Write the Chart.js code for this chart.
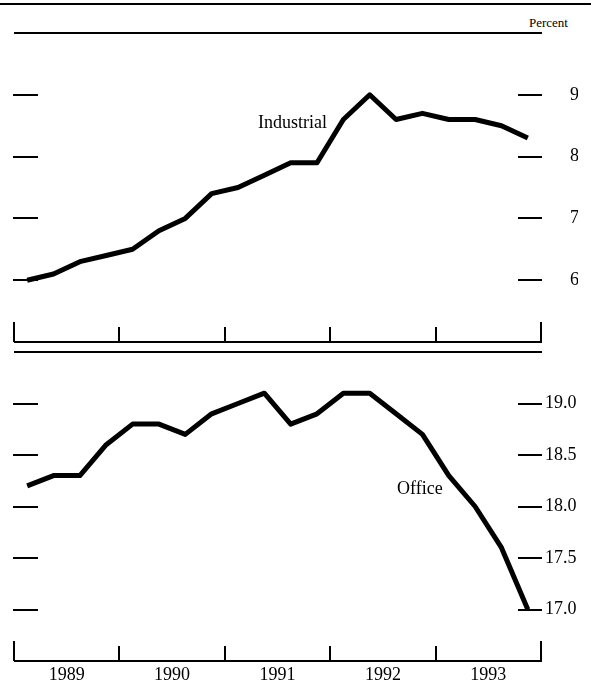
<!DOCTYPE html>
<html>
<head>
<meta charset="utf-8">
<script src="https://cdn.jsdelivr.net/npm/chart.js@4"></script>
<style>
  html, body { margin: 0; padding: 0; background: #fff; }
  body { width: 591px; height: 690px; position: relative; overflow: hidden; font-family: "Liberation Serif", "DejaVu Serif", serif; color: #000; }
  canvas { position: absolute; left: 0; top: 0; }
  .lbl { position: absolute; white-space: nowrap; font-size: 18px; line-height: 18px; }
  #topRule { position: absolute; left: 0; top: 3px; width: 591px; height: 2px; background: #000; }
  #pct { position: absolute; left: 529px; top: 16px; font-size: 13px; line-height: 13px; white-space: nowrap; }
</style>
</head>
<body>
<div id="topRule"></div>
<div id="pct">Percent</div>
<canvas id="c1" width="591" height="690"></canvas>
<canvas id="c2" width="591" height="690"></canvas>
<div class="lbl" style="left:258px; top:113px;">Industrial</div>
<div class="lbl" style="left:397px; top:479px;">Office</div>
<script>
// ---- data (quarterly, 1989Q1 .. 1993Q4) ----
const years = ['1989', '1990', '1991', '1992', '1993'];
const industrial = [6.0, 6.1, 6.3, 6.4, 6.5, 6.8, 7.0, 7.4, 7.5, 7.7,
                    7.9, 7.9, 8.6, 9.0, 8.6, 8.7, 8.6, 8.6, 8.5, 8.3];
const office = [18.2, 18.3, 18.3, 18.6, 18.8, 18.8, 18.7, 18.9, 19.0, 19.1,
                18.8, 18.9, 19.1, 19.1, 18.9, 18.7, 18.3, 18.0, 17.6, 17.0];
const industrialTicks = [6, 7, 8, 9];
const industrialTickLabels = ['6', '7', '8', '9'];
const officeTicks = [17.0, 17.5, 18.0, 18.5, 19.0];
const officeTickLabels = ['17.0', '17.5', '18.0', '18.5', '19.0'];

const toPoints = arr => arr.map((v, i) => ({ x: i + 0.5, y: v }));
const yearBounds = years.map((_, k) => 4 * k).concat([4 * years.length]);

const FONT = "'Liberation Serif', 'DejaVu Serif', serif";

const framePlugin = {
  id: 'frame',
  afterDraw(chart, args, opts) {
    const { ctx, chartArea: a, scales } = chart;
    const xs = scales.x, ys = scales.y;
    ctx.save();
    ctx.strokeStyle = '#000';
    ctx.lineWidth = 2;
    ctx.lineCap = 'butt';
    // top rule and bottom axis line
    ctx.beginPath();
    ctx.moveTo(a.left, a.top); ctx.lineTo(a.right + 1, a.top);
    ctx.moveTo(a.left, a.bottom); ctx.lineTo(a.right + 1, a.bottom);
    ctx.stroke();
    // year boundary ticks (pointing up)
    ctx.beginPath();
    yearBounds.forEach((q, k) => {
      const px = Math.round(xs.getPixelForValue(q));
      const edge = (k === 0 || k === yearBounds.length - 1);
      const len = edge ? 20 : 15;
      ctx.moveTo(px, a.bottom); ctx.lineTo(px, a.bottom - len);
    });
    ctx.stroke();
    // value dashes, left and right
    ctx.beginPath();
    opts.ticks.forEach(v => {
      const py = Math.round(ys.getPixelForValue(v));
      ctx.moveTo(a.left - 1, py); ctx.lineTo(a.left + 24, py);
      ctx.moveTo(a.right - 23, py); ctx.lineTo(a.right + 1, py);
    });
    ctx.stroke();
    ctx.restore();
  }
};

function makeChart(id, values, tickVals, tickLabels, yMin, yMax, padTop, padBottom, showX, yPad) {
  return new Chart(document.getElementById(id), {
    type: 'line',
    data: {
      datasets: [{
        data: toPoints(values),
        borderColor: '#000',
        borderWidth: 5,
        borderJoinStyle: 'round',
        borderCapStyle: 'butt',
        pointRadius: 0,
        tension: 0,
        fill: false,
        clip: false
      }]
    },
    options: {
      responsive: false,
      animation: false,
      devicePixelRatio: 1,
      layout: { padding: { left: 14, right: 13, top: padTop, bottom: padBottom } },
      plugins: {
        legend: { display: false },
        tooltip: { enabled: false },
        frame: { ticks: tickVals }
      },
      scales: {
        x: {
          type: 'linear',
          min: 0,
          max: 20,
          display: showX,
          grid: { display: false, drawTicks: false },
          border: { display: false },
          afterBuildTicks: s => { s.ticks = years.map((_, k) => ({ value: 4 * k + 2 })); },
          afterFit: s => { if (s.options.display) s.height = 29; },
          ticks: {
            padding: 3,
            color: '#000',
            maxRotation: 0,
            autoSkip: false,
            font: { family: FONT, size: 18 },
            callback: v => years[(v - 2) / 4]
          }
        },
        y: {
          position: 'right',
          min: yMin,
          max: yMax,
          grid: { display: false, drawTicks: false },
          border: { display: false },
          afterBuildTicks: s => { s.ticks = tickVals.map(v => ({ value: v })); },
          afterFit: s => { s.width = 37; s.paddingTop = 0; s.paddingBottom = 0; },
          ticks: {
            padding: yPad,
            crossAlign: 'near',
            color: '#000',
            font: { family: FONT, size: 18 },
            callback: v => tickLabels[tickVals.indexOf(v)]
          }
        }
      }
    },
    plugins: [framePlugin]
  });
}

makeChart('c1', industrial, industrialTicks, industrialTickLabels, 5, 10, 33, 348, false, 29);
makeChart('c2', office, officeTicks, officeTickLabels, 16.5, 19.5, 352, 0, true, 4);
</script>
</body>
</html>
